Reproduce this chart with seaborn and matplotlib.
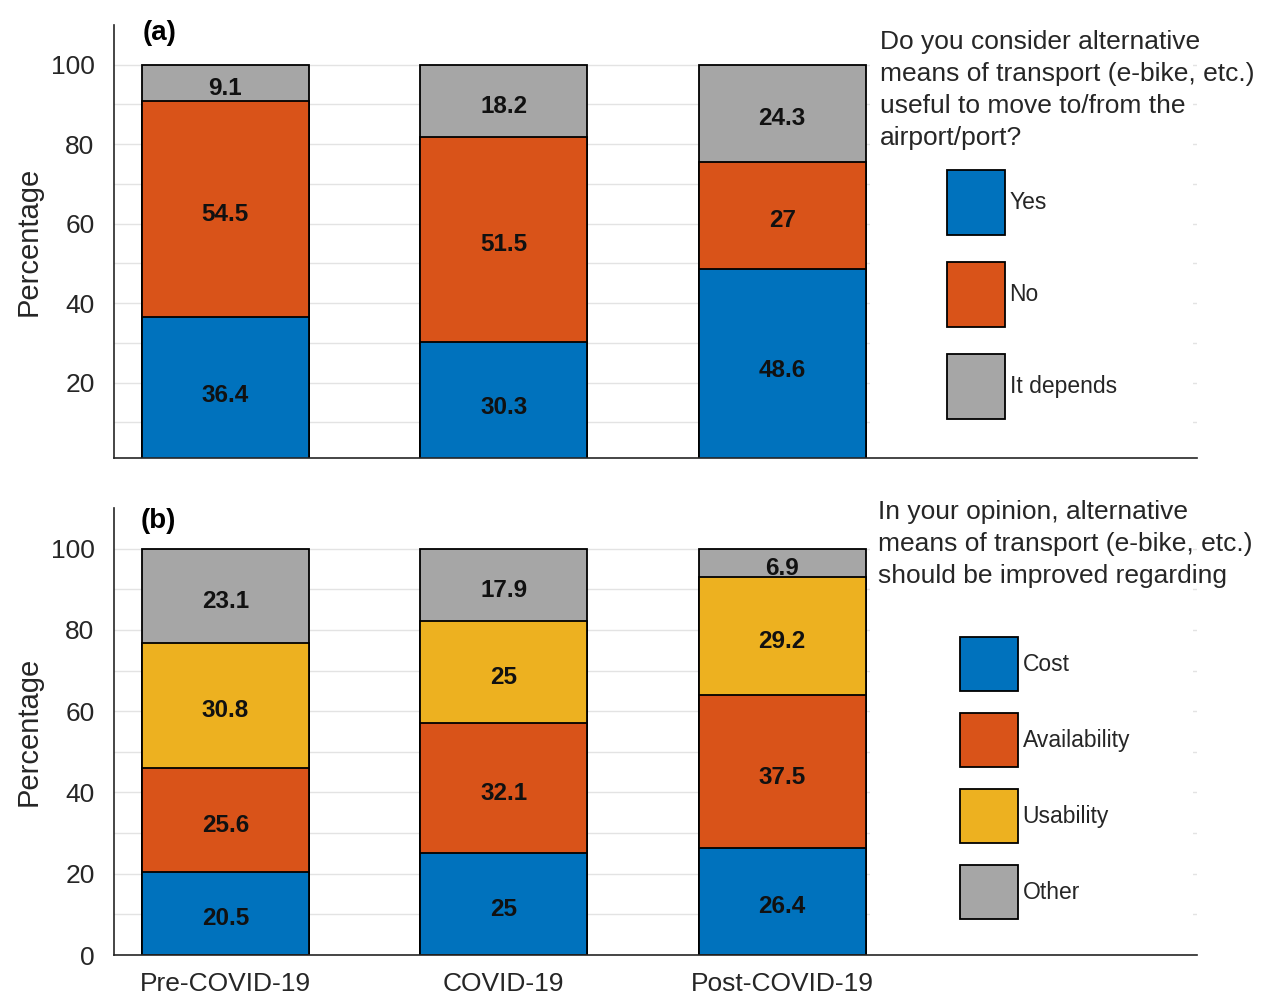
import numpy as np
import matplotlib
matplotlib.use("Agg")
import matplotlib.pyplot as plt
from matplotlib.patches import Patch, Rectangle
import seaborn as sns

# ---------------- data ----------------
periods = ["Pre-COVID-19", "COVID-19", "Post-COVID-19"]

a_labels = ["Yes", "No", "It depends"]
a_yes = [36.4, 30.3, 48.6]
a_no = [54.5, 51.5, 27]
a_depends = [9.1, 18.2, 24.3]

b_labels = ["Cost", "Availability", "Usability", "Other"]
b_cost = [20.5, 25, 26.4]
b_avail = [25.6, 32.1, 37.5]
b_usab = [30.8, 25, 29.2]
b_other = [23.1, 17.9, 6.9]

a_question = ("Do you consider alternative\nmeans of transport (e-bike, etc.)\n"
              "useful to move to/from the\nairport/port?")
b_question = ("In your opinion, alternative\nmeans of transport (e-bike, etc.)\n"
              "should be improved regarding")

top_ticks = [10, 20, 30, 40, 50, 60, 70, 80, 90, 100]
top_ticklabels = ["", "20", "", "40", "", "60", "", "80", "", "100"]
bot_ticks = [0, 10, 20, 30, 40, 50, 60, 70, 80, 90, 100]
bot_ticklabels = ["0", "", "20", "", "40", "", "60", "", "80", "", "100"]

# ---------------- style ----------------
BLUE = "#0072BD"
ORANGE = "#D95319"
YELLOW = "#EDB120"
GREY = "#A6A6A6"
AXC = "#262626"

sns.set_theme(style="white")
plt.rcParams["font.family"] = ["Liberation Sans", "DejaVu Sans"]

fig = plt.figure(figsize=(12.76, 10.05), dpi=100)
ax_a = fig.add_axes([114/1276, 1-458/1005, (1197-114)/1276, (458-25)/1005])
ax_b = fig.add_axes([114/1276, 1-955/1005, (1197-114)/1276, (955-508)/1005])


def stacked(ax, layers, colors):
    layers = np.array(layers, dtype=float)
    cum = np.cumsum(layers, axis=0)
    for i in reversed(range(len(layers))):
        sns.barplot(x=periods, y=cum[i], color=colors[i], width=0.6,
                    edgecolor="black", linewidth=1.3, saturation=1,
                    errorbar=None, ax=ax, zorder=2)
    for i in range(len(layers)):
        bottoms = cum[i] - layers[i]
        for j, v in enumerate(layers[i]):
            ax.annotate(f"{v:g}", xy=(j, bottoms[j] + v / 2), xytext=(0, -4),
                        textcoords="offset points", ha="center", va="center",
                        fontsize=17.5, fontweight="bold", color="#111111",
                        zorder=5)


def style_axes(ax, ylim, ticks, ticklabels, show_xlabels):
    ax.set_xlim(-0.4, 3.49)
    ax.set_ylim(*ylim)
    ax.set_yticks(ticks)
    ax.set_yticklabels(ticklabels)
    ax.set_axisbelow(True)
    ax.yaxis.grid(True, color="#e3e3e3", linewidth=1.0)
    ax.xaxis.grid(False)
    for s in ["top", "right"]:
        ax.spines[s].set_visible(False)
    for s in ["left", "bottom"]:
        ax.spines[s].set_color(AXC)
        ax.spines[s].set_linewidth(1.2)
    ax.tick_params(axis="both", direction="out", length=8, width=1.2,
                   color=AXC, labelcolor=AXC, labelsize=19)
    ax.tick_params(axis="y", pad=6)
    ax.tick_params(axis="x", pad=4, labelbottom=show_xlabels)
    ax.set_xlabel("")
    ax.set_ylabel("Percentage", fontsize=21, color=AXC, labelpad=6)
    # white area behind the legend / question text
    ax.add_patch(Rectangle((0.698, 0.003), 0.298, 0.997, transform=ax.transAxes,
                           facecolor="white", edgecolor="none", zorder=1))


# ---- panel (a)
stacked(ax_a, [a_yes, a_no, a_depends], [BLUE, ORANGE, GREY])
style_axes(ax_a, (1, 110), top_ticks, top_ticklabels, False)
ax_a.text(0.026, 1.012, "(a)", transform=ax_a.transAxes, ha="left", va="top",
          fontsize=20, fontweight="bold", color="black")
fig.text(880/1276, 1-30/1005, a_question, ha="left", va="top",
         fontsize=19, color=AXC, linespacing=1.42)
h_a = [Patch(facecolor=c, edgecolor="black", linewidth=1.3)
       for c in [BLUE, ORANGE, GREY]]
ax_a.legend(h_a, a_labels, loc="upper left",
            bbox_to_anchor=(947/1276, 1-170/1005), bbox_transform=fig.transFigure,
            frameon=False, fontsize=16.5, handlelength=2.53, handleheight=3.99,
            labelspacing=1.18, handletextpad=0.2, borderpad=0, borderaxespad=0)

# ---- panel (b)
stacked(ax_b, [b_cost, b_avail, b_usab, b_other], [BLUE, ORANGE, YELLOW, GREY])
style_axes(ax_b, (0, 110), bot_ticks, bot_ticklabels, True)
ax_b.set_xticks([0, 1, 2])
ax_b.set_xticklabels(periods)
ax_b.text(0.025, 1.0, "(b)", transform=ax_b.transAxes, ha="left", va="top",
          fontsize=20, fontweight="bold", color="black")
fig.text(878/1276, 1-500/1005, b_question, ha="left", va="top",
         fontsize=19, color=AXC, linespacing=1.42)
h_b = [Patch(facecolor=c, edgecolor="black", linewidth=1.3)
       for c in [BLUE, ORANGE, YELLOW, GREY]]
ax_b.legend(h_b, b_labels, loc="upper left",
            bbox_to_anchor=(960/1276, 1-637/1005), bbox_transform=fig.transFigure,
            frameon=False, fontsize=16.5, handlelength=2.53, handleheight=3.25,
            labelspacing=0.96, handletextpad=0.2, borderpad=0, borderaxespad=0)

fig.savefig("out.png", dpi=100, facecolor="white")
